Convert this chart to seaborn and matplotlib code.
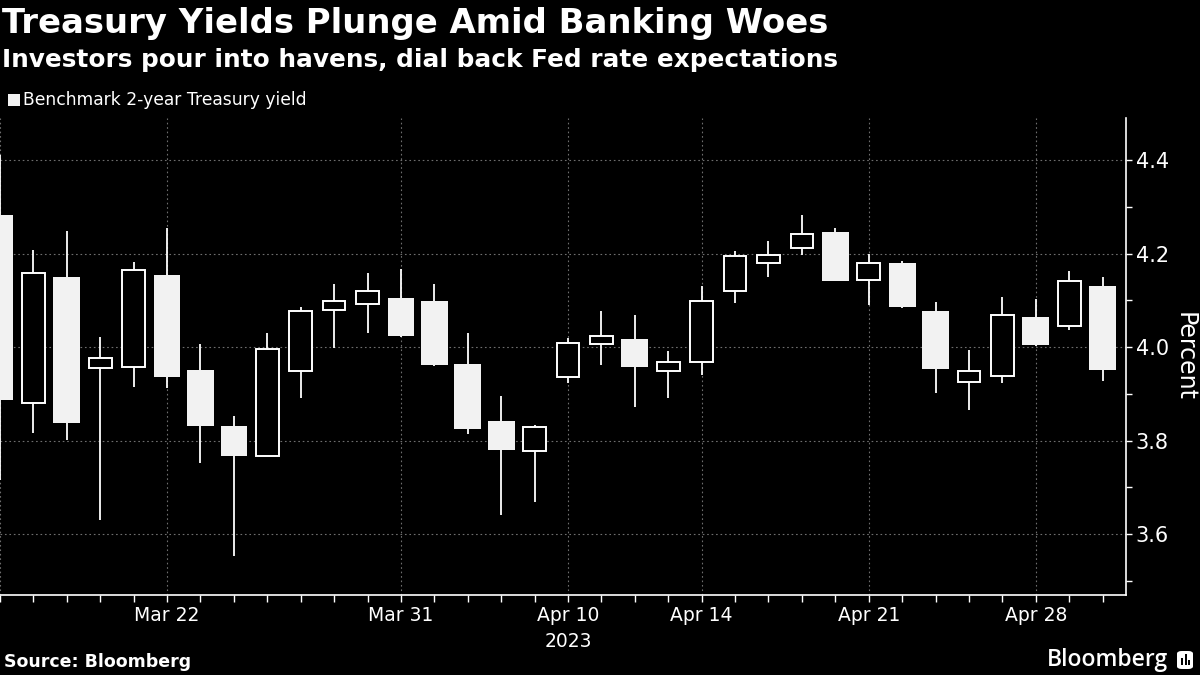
import matplotlib
matplotlib.use("Agg")
import matplotlib.pyplot as plt
from matplotlib.ticker import FixedLocator, MultipleLocator
from matplotlib.patches import FancyBboxPatch, Rectangle
import seaborn as sns

# 交易日（2023年），x轴按交易日等距排列
dates = ["Mar 15", "Mar 16", "Mar 17", "Mar 20", "Mar 21", "Mar 22", "Mar 23", "Mar 24",
         "Mar 27", "Mar 28", "Mar 29", "Mar 30", "Mar 31", "Apr 3", "Apr 4", "Apr 5",
         "Apr 6", "Apr 10", "Apr 11", "Apr 12", "Apr 13", "Apr 14", "Apr 17", "Apr 18",
         "Apr 19", "Apr 20", "Apr 21", "Apr 24", "Apr 25", "Apr 26", "Apr 27", "Apr 28",
         "May 1", "May 2"]

opens = [4.282, 3.880, 4.150, 3.956, 3.958, 4.154, 3.951, 3.831, 3.768, 3.950, 4.080, 4.093,
         4.105, 4.098, 3.964, 3.842, 3.777, 3.937, 4.007, 4.017, 3.950, 3.969, 4.119, 4.181,
         4.211, 4.246, 4.143, 4.180, 4.077, 3.926, 3.939, 4.064, 4.046, 4.130]
highs = [4.410, 4.207, 4.248, 4.021, 4.183, 4.254, 4.006, 3.852, 4.030, 4.085, 4.136, 4.158,
         4.168, 4.135, 4.030, 3.895, 3.833, 4.020, 4.078, 4.068, 3.991, 4.130, 4.205, 4.227,
         4.282, 4.254, 4.199, 4.184, 4.096, 3.994, 4.108, 4.102, 4.163, 4.149]
lows = [3.715, 3.817, 3.801, 3.631, 3.915, 3.912, 3.753, 3.554, 3.768, 3.892, 3.999, 4.031,
        4.022, 3.960, 3.815, 3.642, 3.668, 3.924, 3.962, 3.871, 3.892, 3.940, 4.095, 4.150,
        4.198, 4.141, 4.090, 4.084, 3.901, 3.865, 3.924, 4.002, 4.036, 3.927]
closes = [3.887, 4.158, 3.838, 3.976, 4.166, 3.936, 3.832, 3.767, 3.995, 4.078, 4.098, 4.119,
          4.024, 3.961, 3.825, 3.780, 3.830, 4.008, 4.023, 3.958, 3.969, 4.098, 4.194, 4.196,
          4.243, 4.142, 4.181, 4.086, 3.953, 3.950, 4.068, 4.004, 4.141, 3.951]

major_dates = ["Mar 15", "Mar 22", "Mar 31", "Apr 10", "Apr 14", "Apr 21", "Apr 28"]
major_labels = ["", "Mar 22", "Mar 31", "Apr 10\n2023", "Apr 14", "Apr 21", "Apr 28"]
y_ticks = [3.6, 3.8, 4.0, 4.2, 4.4]

BG = "#000000"
FG = "#ffffff"
BODY = "#f2f2f2"
GRID = "#6e6e6e"

sns.set_theme(style="dark", rc={
    "figure.facecolor": BG,
    "axes.facecolor": BG,
    "savefig.facecolor": BG,
    "text.color": FG,
    "axes.labelcolor": FG,
    "xtick.color": FG,
    "ytick.color": FG,
})
plt.rcParams["font.family"] = ["DejaVu Sans"]

fig = plt.figure(figsize=(12, 6.75), dpi=100)
ax = fig.add_axes([0, 1 - 595 / 675, 1126 / 1200, (595 - 118) / 675])

xs = list(range(len(dates)))

# 影线
ax.vlines(xs, lows, highs, color=FG, linewidth=1.3, zorder=2)

# 实体：上涨=空心，下跌=实心
for x, o, c in zip(xs, opens, closes):
    lo, hi = min(o, c), max(o, c)
    if c >= o:
        ax.bar(x, hi - lo, bottom=lo, width=0.68, facecolor=BG, edgecolor=FG,
               linewidth=1.4, zorder=3)
    else:
        ax.bar(x, hi - lo, bottom=lo, width=0.8, facecolor=BODY, edgecolor="none",
               linewidth=0, zorder=3)

ax.set_xlim(0, 33.7)
ax.set_ylim(3.47, 4.49)

# 坐标轴样式
for side in ["left", "top"]:
    ax.spines[side].set_visible(False)
for side in ["right", "bottom"]:
    ax.spines[side].set_visible(True)
    ax.spines[side].set_color(FG)
    ax.spines[side].set_linewidth(1.2)

major_pos = [dates.index(d) for d in major_dates]
ax.xaxis.set_major_locator(FixedLocator(major_pos))
ax.set_xticklabels(major_labels, fontsize=13.5, color=FG, linespacing=1.45)
ax.xaxis.set_minor_locator(FixedLocator(xs))
ax.tick_params(axis="x", which="both", direction="out", length=5, width=1, colors=FG, pad=3,
               bottom=True)

ax.yaxis.tick_right()
ax.yaxis.set_major_locator(FixedLocator(y_ticks))
ax.set_yticklabels([f"{v:.1f}" for v in y_ticks], fontsize=15, color=FG)
ax.yaxis.set_minor_locator(MultipleLocator(0.1))
ax.tick_params(axis="y", which="both", direction="out", length=4, width=1, colors=FG, pad=3,
               right=True, left=False)
ax.yaxis.set_label_position("right")
ax.set_ylabel("Percent", rotation=270, fontsize=17, color=FG, labelpad=20)

ax.grid(True, which="major", axis="both", color=GRID, linestyle=(0, (1.5, 2.5)), linewidth=0.8)
ax.grid(False, which="minor")
ax.set_axisbelow(True)

# 标题与注释
fig.text(0.002, 1 - 23 / 675, "Treasury Yields Plunge Amid Banking Woes", fontsize=24.4,
         fontweight="bold", color=FG, va="center", ha="left")
fig.text(0.002, 1 - 60 / 675, "Investors pour into havens, dial back Fed rate expectations",
         fontsize=17.8, fontweight="bold", color=FG, va="center", ha="left")
fig.patches.append(Rectangle((8 / 1200, 1 - 106 / 675), 12 / 1200, 12 / 675,
                             transform=fig.transFigure, facecolor=BODY, edgecolor="none"))
fig.text(23 / 1200, 1 - 100 / 675, "Benchmark 2-year Treasury yield",
         fontsize=12.3, color=FG, va="center", ha="left")
fig.text(0.003, 1 - 662 / 675, "Source: Bloomberg", fontsize=12.5, fontweight="bold",
         color=FG, va="center", ha="left")
fig.text(1168 / 1200, 1 - 660 / 675, "Bloomberg", family=["Open Sans", "DejaVu Sans"],
         fontsize=16.5, fontweight="semibold", color=FG, va="center", ha="right")
fig.patches.append(FancyBboxPatch((1177 / 1200, 1 - 669 / 675), 16 / 1200, 18 / 675,
                                  boxstyle="round,pad=0,rounding_size=0.004",
                                  transform=fig.transFigure, facecolor=FG, edgecolor="none"))
for bx, bh in [(1181, 7), (1184.5, 11), (1188, 5)]:
    fig.patches.append(Rectangle((bx / 1200, 1 - 665 / 675), 2 / 1200, bh / 675,
                                 transform=fig.transFigure, facecolor=BG, edgecolor="none"))

fig.savefig("out.png", dpi=100, facecolor=BG)
